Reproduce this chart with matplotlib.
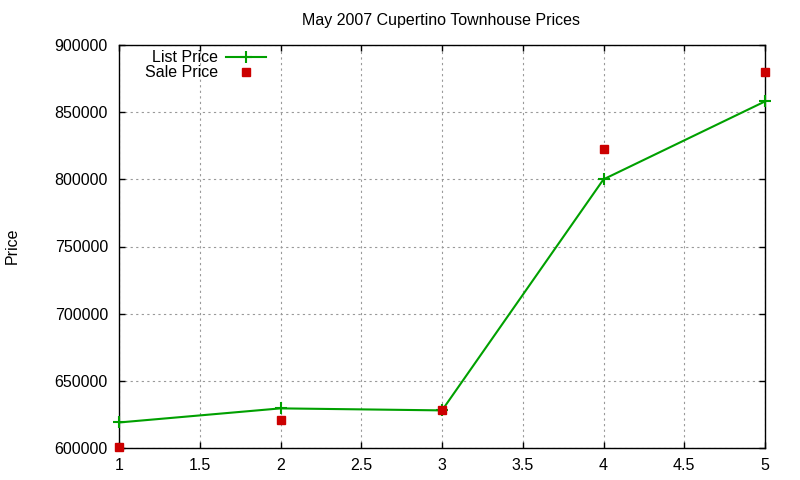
import numpy as np
import matplotlib
matplotlib.use("Agg")
import matplotlib.pyplot as plt

days = [1, 2, 3, 4, 5]
list_price = [619000, 629500, 628000, 800000, 858000]
sale_price = [600500, 620500, 628000, 822500, 880000]
title = "May 2007 Cupertino Townhouse Prices"

FS = 11.5
plt.rcParams['font.family'] = ['Liberation Sans', 'DejaVu Sans']
fig = plt.figure(figsize=(8, 4.8), dpi=100)
ax = fig.add_axes([119/800, 1 - 448/480, (765-119)/800, (448-45)/480])

green = '#00a000'
red = '#cc0000'
ax.plot(days, list_price, color=green, lw=1.5, marker='+', ms=8, mew=1.5,
        zorder=3, clip_on=False)
ax.plot(days, sale_price, linestyle='none', marker='s', ms=6, color=red,
        zorder=4, clip_on=False)

lh1, = ax.plot([], [], color=green, lw=1.5, marker='+', ms=8, mew=1.5)
lh2, = ax.plot([], [], linestyle='none', marker='s', ms=6, color=red)
leg = ax.legend([lh1, lh2], ["List Price", "Sale Price"], loc='upper left',
                bbox_to_anchor=(0.03, 1.003), frameon=False, markerfirst=False,
                fontsize=FS, handlelength=2.5, handletextpad=0.5,
                labelspacing=0.0, borderaxespad=0)
for t in leg.get_texts():
    t.set_ha('right')

ax.set_xlim(1, 5)
ax.set_ylim(600000, 900000)
ax.set_xticks([1, 1.5, 2, 2.5, 3, 3.5, 4, 4.5, 5])
ax.set_xticklabels(['1', '1.5', '2', '2.5', '3', '3.5', '4', '4.5', '5'])
ax.set_yticks(np.arange(600000, 900001, 50000))
ax.set_yticklabels([str(v) for v in range(600000, 900001, 50000)])
ax.tick_params(direction='in', length=4, width=1, top=True, right=True,
               labelsize=FS, colors='black')
ax.tick_params(axis='y', pad=8)
ax.tick_params(axis='x', pad=7)
ax.grid(True, color='#999999', linestyle=(0, (2, 3)), linewidth=0.8)
for s in ax.spines.values():
    s.set_linewidth(1)
    s.set_color('black')

fig.text(441/800, 1 - 20/480, title, ha='center', va='center', fontsize=FS)
fig.text(12/800, 1 - 246/480, "Price", ha='center', va='center', rotation=90, fontsize=FS)

fig.savefig("out.png", dpi=100)
